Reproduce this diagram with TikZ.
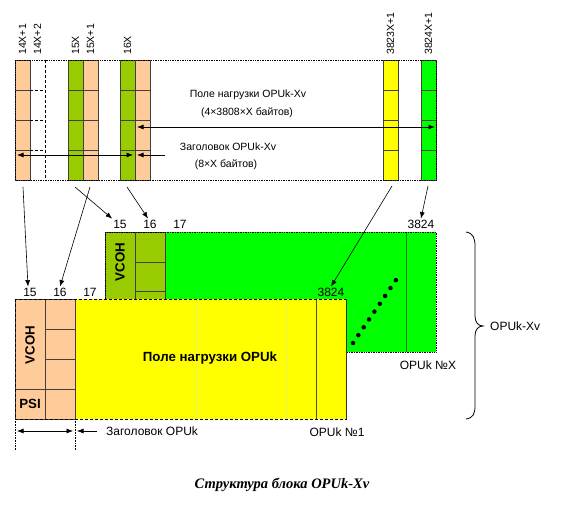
\documentclass[tikz,border=0pt]{standalone}
\usepackage{fontspec}
\setmainfont{Liberation Sans}
\newfontfamily\capfont{Liberation Serif}
\usetikzlibrary{arrows.meta}
\definecolor{peach}{HTML}{FFCC99}
\definecolor{olive}{HTML}{99CC00}
\definecolor{bgreen}{HTML}{00FF00}
\definecolor{yel}{HTML}{FFFF00}
\definecolor{dgreen}{HTML}{1E7A1E}
\definecolor{faint}{HTML}{E4F560}
\begin{document}
\begin{tikzpicture}[x=1pt,y=-1pt,
  cell/.style={draw=black!75, line width=0.6pt},
  arr/.style={-{Latex[length=6.5pt,width=5pt]}, line width=0.6pt},
  darr/.style={{Latex[length=6.5pt,width=5pt]}-{Latex[length=6.5pt,width=5pt]}, line width=0.6pt},
  lbl/.style={font=\fontsize{10.5}{12}\selectfont, inner sep=1pt},
  rlbl/.style={rotate=90, anchor=west, font=\fontsize{10.5}{12}\selectfont, inner sep=0pt},
  hdr/.style={font=\fontsize{12}{14}\selectfont, inner sep=1pt},
  boldlbl/.style={font=\fontsize{13.3}{15}\selectfont\bfseries, inner sep=0pt},
  dotline/.style={densely dotted, line width=0.7pt}]
\useasboundingbox (0,0) rectangle (566,505);

% ---------- top row of byte columns ----------
\foreach \x/\c in {15/peach,68/olive,83/peach,120/olive,135/peach,383/yel,421/bgreen}
  \foreach \r in {0,1,2,3}
    \draw[cell, fill=\c] (\x,{60+30*\r}) rectangle ++(15,30);
\draw[densely dashed, line width=0.5pt] (45,60) -- (45,180);
\foreach \yy in {90,120,150} \draw[densely dashed, line width=0.5pt] (30,\yy) -- (45,\yy);
\draw[dotline] (15,60) rectangle (436,180);

\node[rlbl] (l14a) at (22.5,55) {14X+1};
\node[rlbl] (l14b) at (37.5,55) {14X+2};
\node[rlbl] (l15a) at (75.5,55) {15X};
\node[rlbl] (l15b) at (90.5,55) {15X+1};
\node[rlbl] (l16) at (127.5,55) {16X};
\node[rlbl] (l3823) at (390.5,55) {3823X+1};
\node[rlbl] (l3824) at (428.5,55) {3824X+1};

\node[lbl] (pl1) at (248,95) {Поле нагрузки OPUk-Xv};
\node[lbl] (pl2) at (247,113) {(4×3808×X байтов)};
\node[lbl] (zg1) at (228,147) {Заголовок OPUk-Xv};
\node[lbl] (zg2) at (226,165) {(8×X байтов)};

\coordinate (pa1) at (137,127);
\coordinate (pa2) at (435,127);
\draw[darr] (pa1) -- (pa2);
\coordinate (za1) at (17,155);
\coordinate (za2) at (133,155);
\coordinate (za3) at (137,155);
\coordinate (za4) at (165,155);
\draw[darr] (za1) -- (za2);
\draw[arr] (za4) -- (za3);

% ---------- OPUk #X (green) ----------
\draw[fill=bgreen, draw=none] (105,232) rectangle (436,352);
\draw[cell, fill=olive] (105,232) rectangle (135,299);
\draw[cell, fill=olive] (135,232) rectangle (165,299);
\draw[cell] (135,262) -- (165,262);
\draw[cell] (135,291) -- (165,291);
\draw[dgreen, line width=1pt] (406,232) -- (406,352);
\draw[dotline] (105,232) rectangle (436,352);
\node[boldlbl, rotate=90] (gv) at (120,262) {VCOH};

\node[hdr] (g15) at (120,224) {15};
\node[hdr] (g16) at (150,224) {16};
\node[hdr] (g17) at (180,224) {17};
\node[hdr] (g3824) at (421,224) {3824};

% ---------- OPUk #1 (yellow) ----------
\draw[fill=yel, draw=none] (15,299) rectangle (346,419);
\draw[color=faint, line width=0.3pt] (196,299) -- (196,419);
\draw[color=faint, line width=0.3pt] (286,299) -- (286,419);
\draw[cell, fill=peach] (15,299) rectangle (45,419);
\draw[cell, fill=peach] (45,299) rectangle (75,419);
\foreach \yy in {329,359,389} \draw[cell] (45,\yy) -- (75,\yy);
\draw[cell] (15,389) -- (45,389);
\draw[black!70, line width=0.8pt] (316,299) -- (316,419);
\draw[densely dashed, line width=0.7pt] (15,299) rectangle (346,419);
\draw[black!80, line width=0.7pt] (346,299) -- (346,419);
\node[boldlbl, rotate=90] (yv) at (30,345) {VCOH};
\node[boldlbl] (psi) at (30,404) {PSI};
\node[boldlbl] (ypl) at (210,358) {Поле нагрузки OPUk};

\node[hdr] (y15) at (30,292) {15};
\node[hdr] (y16) at (60,292) {16};
\node[hdr] (y17) at (90,292) {17};
\node[hdr] (y3824) at (331,292) {3824};

% dots between the blocks
\draw[line width=4.5pt, line cap=round, dash pattern=on 0pt off 9.5pt] (353,343) -- (398,277);

% ---------- arrows from the top row ----------
\coordinate (c14) at (23,187);
\coordinate (c15a) at (75,187);
\coordinate (c15b) at (90,187);
\coordinate (c16) at (127,187);
\coordinate (c3823) at (392,186);
\coordinate (c3824) at (428,186);
\draw[arr] (c14) -- ([xshift=-2pt]y15.north);
\draw[arr] (c15b) -- (y16.north);
\draw[arr] (c15a) -- (g15.north west);
\draw[arr] (c16) -- ([xshift=-2pt]g16.north);
\draw[arr] (c3823) -- (y3824.north);
\draw[arr] (c3824) -- (g3824.north);

% ---------- labels below ----------
\node[hdr] (n1) at (337,432) {OPUk №1};
\node[hdr] (nx) at (428,365) {OPUk №X};

\draw[densely dotted, line width=0.6pt] (15,419) -- (15,450);
\draw[densely dotted, line width=0.6pt] (75,419) -- (75,450);
\coordinate (b1) at (17,431);
\coordinate (b2) at (73,431);
\coordinate (b3) at (77,431);
\coordinate (b4) at (97,431);
\draw[darr] (b1) -- (b2);
\draw[arr] (b4) -- (b3);
\node[hdr, anchor=west] (bz) at (105,431) {Заголовок OPUk};

% ---------- brace ----------
\draw[line width=0.8pt] (466,232) .. controls (473,233) and (475,238) .. (475,246)
  -- (475,316) .. controls (475,322) and (478,326) .. (483,326)
  .. controls (478,326) and (475,330) .. (475,336)
  -- (475,406) .. controls (475,414) and (473,418) .. (466,419);
\node[hdr, anchor=west] (xv) at (489,326) {OPUk-Xv};

% ---------- caption ----------
\node[font=\capfont\bfseries\itshape\fontsize{14.5}{16}\selectfont] (cap) at (282,485) {Структура блока OPUk-Xv};
\end{tikzpicture}
\end{document}
